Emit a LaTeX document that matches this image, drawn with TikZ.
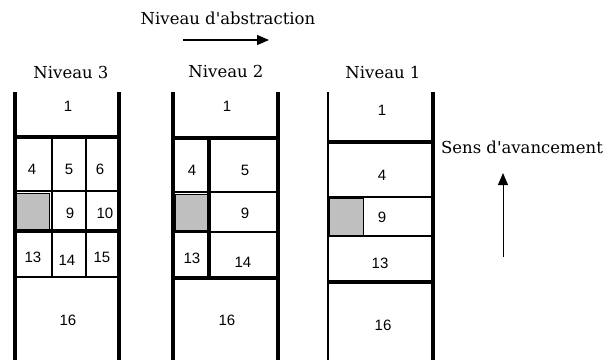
\documentclass[tikz,border=0pt]{standalone}
\usepackage{fontspec}
\setmainfont{Liberation Sans}
\newfontfamily\headfont{DejaVu Serif}
\usetikzlibrary{arrows.meta,positioning}

\begin{document}
\begin{tikzpicture}[x=1pt,y=-1pt,
    thickline/.style={line width=3.6pt},
    midline/.style={line width=2.7pt},
    thinline/.style={line width=1.8pt},
    cell/.style={font=\fontsize{15}{17}\selectfont, inner sep=0pt},
    head/.style={font=\headfont\fontsize{16.5}{19}\selectfont, inner sep=0pt},
    grey/.style={fill=black!25, draw=black, line width=0.8pt}]
  \useasboundingbox (0,0) rectangle (606,360);

  % headings
  \node[head] (abs) at (228,18) {Niveau d'abstraction};
  \coordinate (absA) at (183,40);
  \coordinate (absB) at (269,40);
  \draw[line width=1.2pt, -{Triangle[length=12pt,width=10pt]}] (absA) -- (absB);
  \node[head] (niv3) at (71,72) {Niveau 3};
  \node[head] (niv2) at (226,71) {Niveau 2};
  \node[head] (niv1) at (383,72) {Niveau 1};
  \node[head] (sens) at (522,147) {Sens d'avancement};
  \coordinate (sensA) at (503,257);
  \coordinate (sensB) at (503,173);
  \draw[line width=1pt, -{Triangle[length=12pt,width=10pt]}] (sensA) -- (sensB);

  % niveau 3
  \filldraw[grey] (16,193) rectangle (49,229);
  \draw[thickline] (15,92) -- (15,360);
  \draw[thickline] (119,92) -- (119,360);
  \draw[thickline] (15,137) -- (119,137);
  \draw[midline] (15,191) -- (119,191);
  \draw[thickline] (15,231) -- (119,231);
  \draw[thinline] (15,277) -- (119,277);
  \draw[midline] (52,137) -- (52,277);
  \draw[midline] (86,137) -- (86,277);
  \foreach \t/\x/\y in {1/68/106, 4/32/169, 5/69/169, 6/100/169, 9/70/213,
      10/105/213, 13/33/257, 14/67/260, 15/102/257, 16/68/320}
    \node[cell] (c3-\t) at (\x,\y) {\t};

  % niveau 2
  \filldraw[grey] (175,194) rectangle (207,230);
  \draw[thickline] (173,92) -- (173,360);
  \draw[thickline] (278,92) -- (278,360);
  \draw[thickline] (173,138) -- (278,138);
  \draw[midline] (173,192) -- (278,192);
  \draw[midline] (173,232) -- (278,232);
  \draw[thickline] (173,278) -- (278,278);
  \draw[thickline] (209,138) -- (209,278);
  \foreach \t/\x/\y in {1/227/106, 4/192/170, 5/245/170, 9/245/213,
      13/192/258, 14/243/262, 16/227/320}
    \node[cell] (c2-\t) at (\x,\y) {\t};

  % niveau 1
  \filldraw[grey] (329,198) rectangle (363,235);
  \draw[thinline] (328,92) -- (328,360);
  \draw[thickline] (433,92) -- (433,360);
  \draw[thickline] (328,142) -- (433,142);
  \draw[midline] (328,197) -- (433,197);
  \draw[midline] (328,236) -- (433,236);
  \draw[thickline] (328,282) -- (433,282);
  \foreach \t/\x/\y in {1/382/110, 4/382/175, 9/382/217, 13/380/263, 16/383/325}
    \node[cell] (c1-\t) at (\x,\y) {\t};
\end{tikzpicture}
\end{document}
